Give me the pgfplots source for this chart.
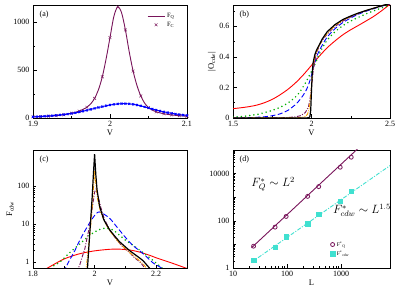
\documentclass[border=0pt]{standalone}
\usepackage{fontspec}
\setmainfont{Liberation Serif}
\usepackage{pgfplots}
\pgfplotsset{compat=1.18}
\definecolor{maroon}{RGB}{120,20,90}
\definecolor{mygreen}{RGB}{0,175,0}
\definecolor{myorange}{RGB}{255,165,0}
\definecolor{turq}{RGB}{64,224,208}
\pgfplotsset{
  panel/.style={scale only axis, anchor=south west, tick align=inside, tick pos=left,
    axis line style={line width=0.6pt}, major tick length=3.5pt, minor tick length=2pt,
    every tick/.style={black, line width=0.5pt},
    tick label style={font=\fontsize{8}{9}\selectfont},
    label style={font=\fontsize{8.5}{9}\selectfont},
    /pgf/number format/assume math mode=true, /pgf/number format/1000 sep={},
    xlabel style={yshift=4pt}, ylabel style={yshift=-3pt}}
}
\tikzset{plab/.style={font=\fontsize{8}{9}\selectfont, anchor=north west}}
\begin{document}
\begin{tikzpicture}
\useasboundingbox (0pt,0pt) rectangle (399pt,291pt);
% ---------------- (a)
\begin{axis}[panel, at={(33pt,173pt)}, width=154pt, height=113pt,
  xmin=1.9, xmax=2.1, ymin=0, ymax=1180,
  xtick={1.9,2,2.1}, minor xtick={1.95,2.05},
  ytick={0,500,1000}, minor ytick={250,750},
  xlabel={V},
  legend style={at={(0.72,0.965)}, anchor=north west, draw=none, fill=none,
    font=\fontsize{6.5}{7}\selectfont, row sep=-1pt},
  legend cell align=left]
\addplot[maroon, line width=0.9pt, smooth] coordinates {
(1.900,12)(1.910,15)(1.920,19)(1.930,25)(1.940,34)(1.950,50)(1.960,72)(1.970,112)
(1.975,148)(1.980,205)(1.985,295)(1.990,430)(1.995,620)(2.000,840)(2.005,1060)
(2.010,1160)(2.015,1100)(2.020,920)(2.025,690)(2.030,490)(2.035,340)(2.040,230)
(2.045,155)(2.050,108)(2.055,82)(2.060,64)(2.070,44)(2.080,32)(2.090,24)(2.100,18)};
\addlegendentry{F\textsubscript{Q}}
\addplot[only marks, mark=x, maroon, mark size=2pt] coordinates {
(1.90,12)(1.91,15)(1.92,19)(1.93,25)(1.94,34)(1.95,50)(1.96,72)(1.97,112)(1.98,205)
(1.99,430)(2.00,840)(2.01,1160)(2.02,920)(2.03,490)(2.04,230)(2.05,108)(2.06,64)
(2.07,44)(2.08,32)(2.09,24)(2.10,18)};
\addlegendentry{F\textsubscript{C}}
\addplot[blue, line width=0.9pt, smooth, mark=x, mark size=1.4pt, mark options={solid}] coordinates {
(1.900,12)(1.905,14)(1.910,16)(1.915,18)(1.920,21)(1.925,24)(1.930,28)(1.935,32)
(1.940,36)(1.945,41)(1.950,47)(1.955,54)(1.960,62)(1.965,71)(1.970,80)(1.975,90)
(1.980,100)(1.985,110)(1.990,119)(1.995,128)(2.000,136)(2.005,142)(2.010,147)
(2.015,150)(2.020,150)(2.025,148)(2.030,143)(2.035,136)(2.040,127)(2.045,116)
(2.050,105)(2.055,94)(2.060,83)(2.065,73)(2.070,64)(2.075,56)(2.080,49)(2.085,42)
(2.090,36)(2.095,31)(2.100,27)};
\node[plab] at (rel axis cs:0.02,0.98) {(a)};
\end{axis}
% ---------------- (b)
\begin{axis}[panel, at={(233pt,173pt)}, width=157pt, height=113pt,
  xmin=1.5, xmax=2.5, ymin=0, ymax=0.74,
  xtick={1.5,2,2.5}, minor xtick={1.75,2.25},
  ytick={0,0.2,0.4,0.6}, minor ytick={0.1,0.3,0.5,0.7},
  xlabel={V}, ylabel={|O\textsubscript{cdw}|}]
\addplot[red, line width=0.9pt, smooth] coordinates {
(1.50,0.061)(1.55,0.067)(1.60,0.074)(1.65,0.084)(1.70,0.100)(1.75,0.122)(1.80,0.152)
(1.85,0.188)(1.90,0.232)(1.95,0.285)(2.00,0.345)(2.05,0.405)(2.10,0.46)(2.15,0.505)
(2.20,0.545)(2.25,0.578)(2.30,0.607)(2.35,0.637)(2.40,0.668)(2.45,0.705)(2.50,0.745)};
\addplot[mygreen, line width=1.7pt, line cap=round, dash pattern=on 0pt off 4.2pt, smooth] coordinates {
(1.50,0.006)(1.55,0.009)(1.60,0.015)(1.65,0.023)(1.70,0.035)(1.75,0.05)(1.80,0.07)
(1.85,0.098)(1.90,0.14)(1.925,0.17)(1.95,0.21)(1.975,0.255)(2.00,0.305)(2.025,0.36)
(2.05,0.42)(2.075,0.47)(2.10,0.51)(2.15,0.565)(2.20,0.605)(2.25,0.635)(2.30,0.66)
(2.35,0.683)(2.40,0.703)(2.45,0.722)(2.50,0.742)};
\addplot[blue, line width=0.9pt, dash pattern=on 5pt off 2.5pt, smooth] coordinates {
(1.50,0.0)(1.60,0.002)(1.70,0.008)(1.75,0.015)(1.80,0.027)(1.85,0.05)(1.90,0.09)
(1.93,0.125)(1.96,0.17)(1.98,0.215)(2.00,0.28)(2.02,0.36)(2.04,0.42)(2.07,0.48)
(2.10,0.53)(2.15,0.585)(2.20,0.625)(2.25,0.655)(2.30,0.68)(2.35,0.70)(2.40,0.717)
(2.45,0.733)(2.50,0.748)};
\addplot[maroon, line width=0.9pt, dash pattern=on 4pt off 1.5pt on 1pt off 1.5pt] coordinates {
(1.50,0)(1.80,0.001)(1.85,0.003)(1.90,0.008)(1.93,0.015)(1.96,0.035)(1.98,0.07)
(1.99,0.12)(2.00,0.20)(2.01,0.30)(2.02,0.37)(2.03,0.42)(2.05,0.475)(2.07,0.51)
(2.10,0.55)(2.15,0.60)(2.20,0.635)(2.25,0.662)(2.30,0.685)(2.35,0.703)(2.40,0.72)
(2.45,0.735)(2.50,0.749)};
\addplot[myorange, line width=0.9pt, dash pattern=on 4pt off 1.2pt on 0.8pt off 1.2pt on 0.8pt off 1.2pt] coordinates {
(1.50,0)(1.90,0.001)(1.94,0.004)(1.96,0.01)(1.975,0.025)(1.985,0.06)(1.995,0.14)
(2.00,0.21)(2.005,0.29)(2.01,0.34)(2.02,0.39)(2.03,0.43)(2.05,0.475)(2.07,0.515)
(2.10,0.555)(2.15,0.605)(2.20,0.64)(2.25,0.665)(2.30,0.688)(2.35,0.705)(2.40,0.72)
(2.45,0.736)(2.50,0.75)};
\addplot[black, line width=1.2pt] coordinates {
(1.50,0)(1.97,0)(1.985,0.003)(1.99,0.01)(1.995,0.05)(2.00,0.18)(2.005,0.30)(2.01,0.36)
(2.02,0.41)(2.03,0.44)(2.05,0.48)(2.07,0.52)(2.10,0.565)(2.15,0.612)(2.20,0.645)
(2.25,0.668)(2.30,0.688)(2.35,0.705)(2.40,0.72)(2.45,0.736)(2.50,0.75)};
\node[plab] at (rel axis cs:0.02,0.98) {(b)};
\end{axis}
% ---------------- (c)
\begin{axis}[panel, at={(33pt,23pt)}, width=154pt, height=118pt,
  ymode=log, log ticks with fixed point,
  xmin=1.8, xmax=2.3, ymin=0.7, ymax=900,
  xtick={1.8,2,2.2}, minor xtick={1.9,2.1,2.3},
  ytick={1,10,100},
  xlabel={V}, ylabel={F\textsubscript{cdw}}]
\addplot[red, line width=0.9pt, smooth] coordinates {
(1.80,0.42)(1.85,0.72)(1.90,1.2)(1.95,1.65)(2.00,1.98)(2.05,2.18)(2.08,2.2)(2.12,2.05)
(2.15,1.8)(2.18,1.5)(2.20,1.3)(2.25,0.95)(2.30,0.68)};
\addplot[mygreen, line width=1.7pt, line cap=round, dash pattern=on 0pt off 4.2pt, smooth] coordinates {
(1.85,0.55)(1.865,0.78)(1.887,1.0)(1.92,1.8)(1.95,2.9)(1.98,4.8)(2.00,6.2)(2.02,7.4)
(2.04,7.8)(2.06,7.0)(2.08,5.2)(2.10,3.8)(2.13,2.6)(2.16,1.7)(2.19,1.1)(2.21,0.8)(2.23,0.6)};
\addplot[blue, line width=0.9pt, dash pattern=on 5pt off 2.5pt, smooth] coordinates {
(1.90,0.55)(1.914,0.96)(1.935,1.95)(1.95,3.5)(1.97,7)(1.99,13)(2.005,19)(2.015,21)
(2.03,18.5)(2.05,14)(2.07,8.9)(2.10,4.5)(2.125,2.7)(2.146,2.0)(2.17,1.35)(2.19,0.95)
(2.216,0.71)(2.23,0.55)};
\addplot[maroon, line width=0.9pt, dash pattern=on 4pt off 1.5pt on 1pt off 1.5pt] coordinates {
(1.94,0.55)(1.951,0.8)(1.96,1.4)(1.968,2.2)(1.976,4.5)(1.984,9)(1.992,25)(2.00,70)
(2.005,85)(2.01,60)(2.02,28)(2.032,13.3)(2.05,7)(2.07,4.0)(2.09,2.6)(2.114,1.76)
(2.13,1.3)(2.15,0.96)(2.16,0.75)(2.17,0.6)};
\addplot[myorange, line width=0.9pt, dash pattern=on 4pt off 1.2pt on 0.8pt off 1.2pt on 0.8pt off 1.2pt] coordinates {
(1.966,0.55)(1.973,0.75)(1.979,2)(1.984,4.8)(1.99,15)(1.995,60)(2.00,250)(2.004,120)
(2.01,45)(2.02,20)(2.035,10.5)(2.05,6.5)(2.08,3.2)(2.11,1.9)(2.14,1.2)(2.16,0.85)(2.175,0.6)};
\addplot[black, line width=1.2pt] coordinates {
(1.975,0.5)(1.977,0.7)(1.982,3)(1.987,12)(1.992,50)(1.996,200)(2.000,700)(2.004,200)
(2.008,80)(2.016,30)(2.03,13)(2.049,7.0)(2.08,3.5)(2.114,2.0)(2.14,1.4)(2.157,1.1)
(2.178,0.7)(2.19,0.55)};
\node[plab] at (rel axis cs:0.02,0.98) {(c)};
\end{axis}
% ---------------- (d)
\begin{axis}[panel, at={(233pt,23pt)}, width=157pt, height=118pt,
  xmode=log, ymode=log, log ticks with fixed point,
  xmin=10, xmax=8000, ymin=1, ymax=100000,
  xtick={10,100,1000},
  ytick={1,10,100,1000,10000,100000}, yticklabels={1,,100,,10000,},
  xlabel={L},
  legend style={at={(0.6,0.26)}, anchor=north west, draw=none, fill=none,
    font=\fontsize{5.5}{6}\selectfont, row sep=-1pt},
  legend cell align=left]
\addplot[maroon, line width=0.9pt, forget plot] coordinates {(22,7.2)(2000,110000)};
\addplot[turq, line width=0.9pt, dash pattern=on 4pt off 1.5pt on 1pt off 1.5pt, forget plot] coordinates {(22,1.75)(8000,21900)};
\addplot[only marks, mark=o, maroon, mark size=2pt, thick] coordinates {
(24,8.4)(60,54)(96,153)(240,1084)(384,2800)(960,18600)(1536,49500)};
\addlegendentry{F\textsuperscript{*}\textsubscript{Q}}
\addplot[only marks, mark=square*, turq, mark size=2.2pt] coordinates {
(24,2.12)(60,7.57)(96,21.5)(240,74.5)(384,192)(960,665)(1536,1830)};
\addlegendentry{F\textsuperscript{*}\textsubscript{cdw}}
\node[font=\fontsize{12}{12}\selectfont] at (axis cs:55,3500) {$F^*_Q \sim L^2$};
\node[font=\fontsize{12}{12}\selectfont] at (axis cs:2420,284) {$F^*_{cdw} \sim L^{1.5}$};
\node[plab] at (rel axis cs:0.02,0.98) {(d)};
\end{axis}
\end{tikzpicture}
\end{document}
